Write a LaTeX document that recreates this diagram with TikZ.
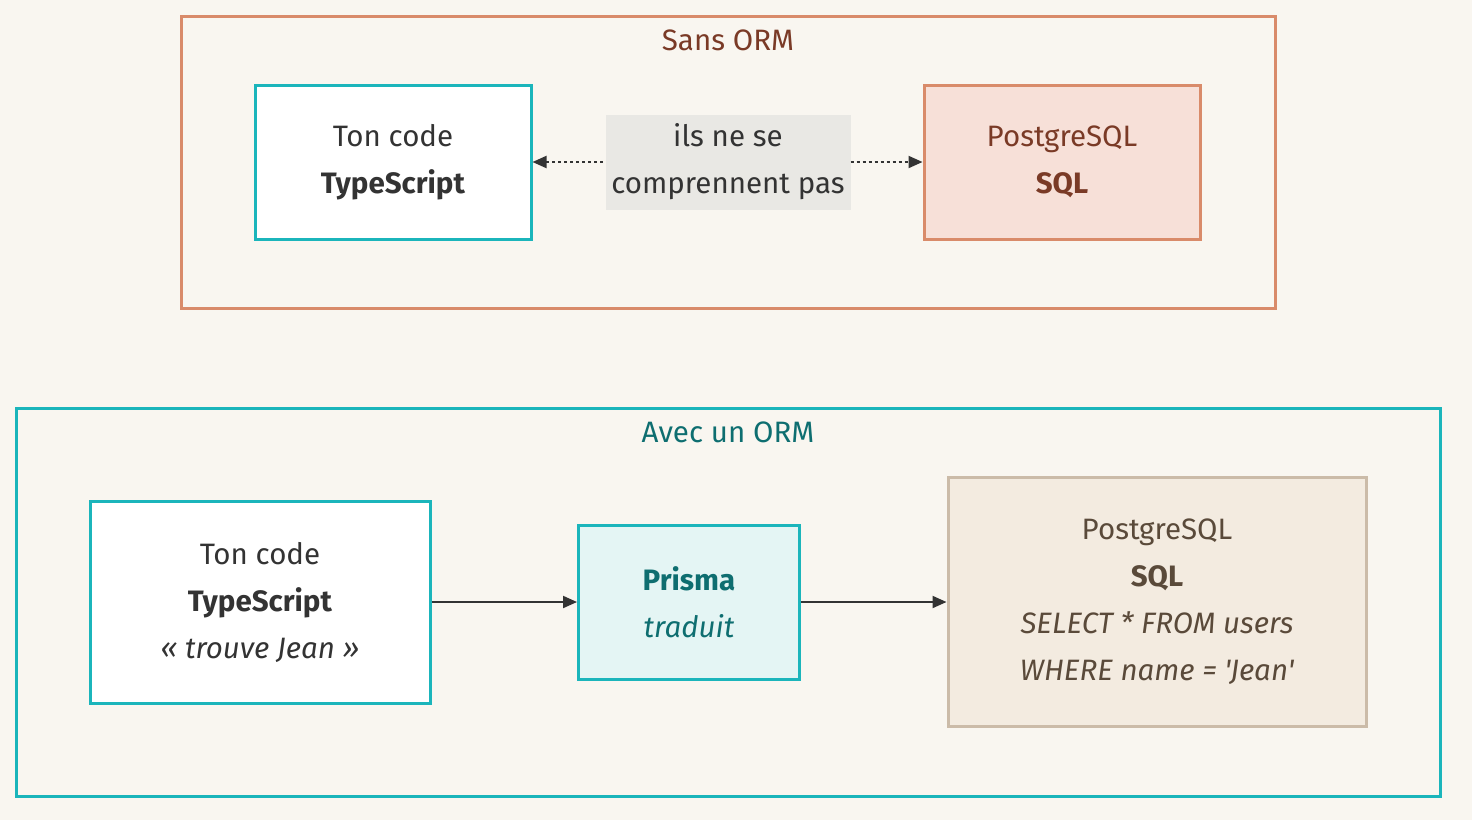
\documentclass[tikz,border=0pt]{standalone}
\usepackage{fontspec}
\setmainfont{Fira Sans}
\newfontfamily\fq{Fira Sans}
\usetikzlibrary{arrows.meta}
\definecolor{bg}{HTML}{F9F6F0}
\definecolor{orB}{HTML}{D98B6A}
\definecolor{orT}{HTML}{7A3A26}
\definecolor{orF}{HTML}{F7E0D8}
\definecolor{teB}{HTML}{1BB5BB}
\definecolor{teT}{HTML}{0E6E70}
\definecolor{teF}{HTML}{E4F5F4}
\definecolor{lbl}{HTML}{E9E8E4}
\definecolor{pgF}{HTML}{F3EBE0}
\definecolor{pgB}{HTML}{CBBBA8}
\definecolor{pgT}{HTML}{5A4A3A}
\definecolor{ink}{HTML}{333333}
\begin{document}
\begin{tikzpicture}[x=1pt,y=-1pt,
  every node/.style={font=\fontsize{29.5}{47}\selectfont, text=ink, align=center},
  box/.style={draw, line width=3pt, minimum width=#1, inner sep=0pt},
  arr/.style={-{Triangle[length=14pt,width=12pt]}, line width=2pt, draw=ink}]
\fill[bg] (0,0) rectangle (1472,820);
\useasboundingbox (0,0) rectangle (1472,820);
% clusters
\draw[orB, line width=3pt] (181,16) rectangle (1275,308);
\node (t1) at (728,40) {\textcolor{orT}{Sans ORM}};
\draw[teB, line width=3pt] (16,408) rectangle (1440,796);
\node (t2) at (728,432) {\textcolor{teT}{Avec un ORM}};
% top row
\node[box=276pt, draw=teB, fill=white, minimum height=154pt] (a) at (393,162) {Ton code\\\textbf{TypeScript}};
\node[box=276pt, draw=orB, fill=orF, minimum height=154pt, text=orT] (b) at (1062,162) {PostgreSQL\\\textbf{SQL}};
\node[fill=lbl, inner sep=0pt, minimum width=245pt, minimum height=95pt] (l) at (728,162) {ils ne se\\comprennent pas};
\draw[arr, dash pattern=on 3pt off 3pt, {Triangle[length=14pt,width=12pt]}-] (a) -- (l);
\draw[arr, dash pattern=on 3pt off 3pt] (l) -- (b);
% bottom row
\node[box=340pt, draw=teB, fill=white, minimum height=202pt] (c) at (260,602) {Ton code\\\textbf{TypeScript}\\\textit{« trouve Jean »}};
\node[box=221pt, draw=teB, fill=teF, minimum height=154pt, text=teT] (p) at (689,602) {\textbf{Prisma}\\\textit{traduit}};
\node[box=418pt, draw=pgB, fill=pgF, minimum height=249pt, text=pgT] (q) at (1157,602) {PostgreSQL\\\textbf{SQL}\\\textit{SELECT * FROM users}\\{\fq\itshape WHERE name = 'Jean'}};
\draw[arr] (c) -- (p);
\draw[arr] (p) -- (q);
\end{tikzpicture}
\end{document}
